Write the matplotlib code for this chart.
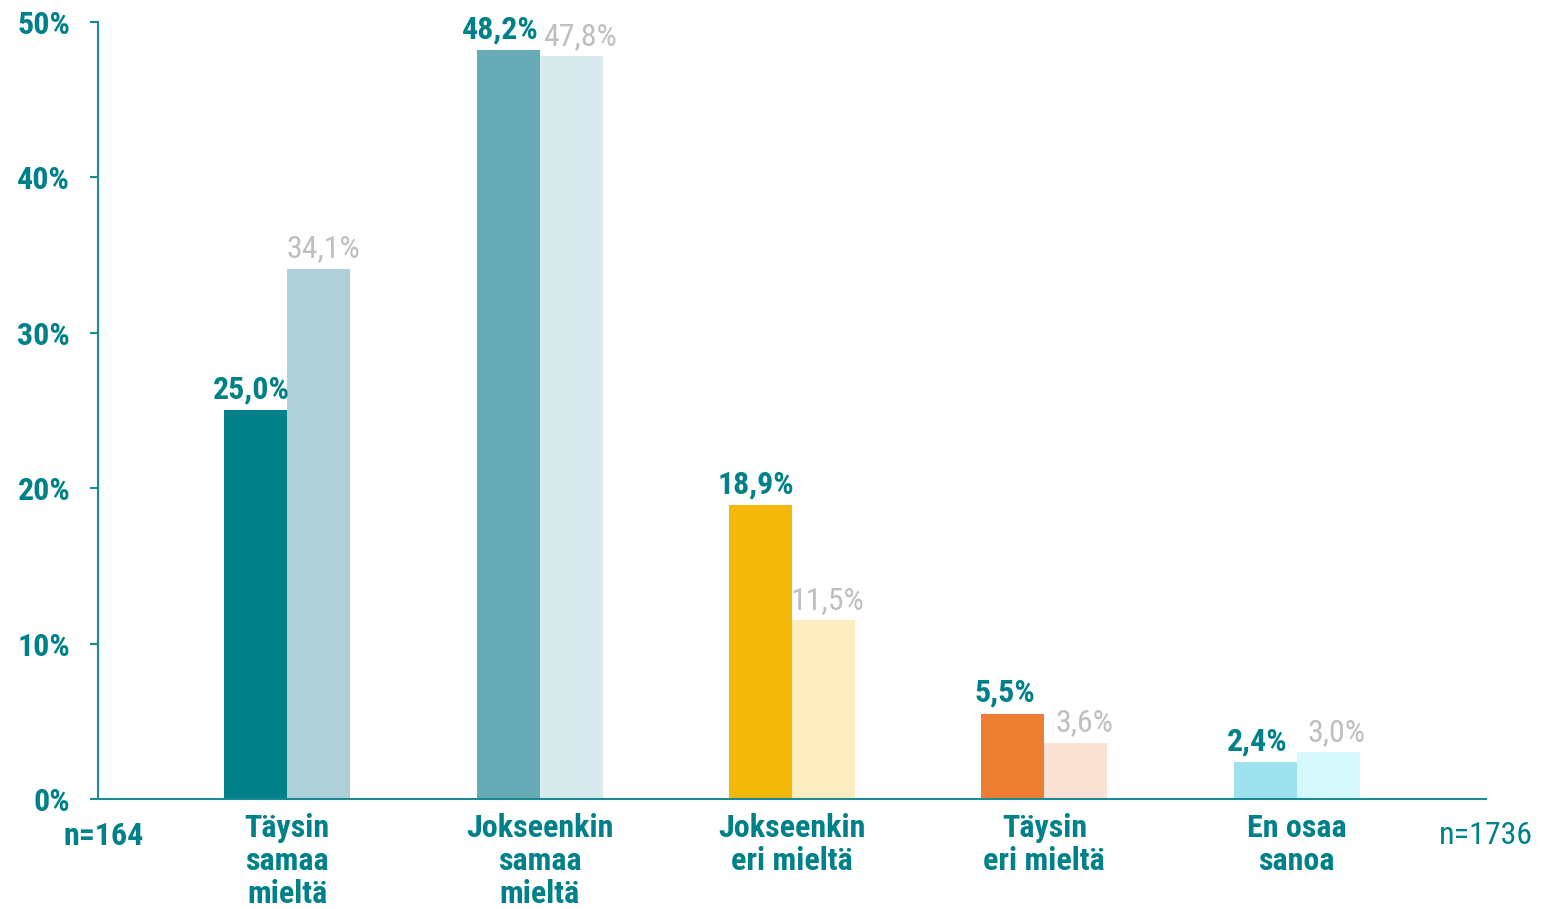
import matplotlib
matplotlib.use("Agg")
import matplotlib.pyplot as plt
from matplotlib import font_manager
import numpy as np

categories = ["Täysin\nsamaa\nmieltä", "Jokseenkin\nsamaa\nmieltä", "Jokseenkin\neri mieltä",
              "Täysin\neri mieltä", "En osaa\nsanoa"]
group_a = [25.0, 48.2, 18.9, 5.5, 2.4]    # n=164
group_b = [34.1, 47.8, 11.5, 3.6, 3.0]    # n=1736
label_a = ["25,0%", "48,2%", "18,9%", "5,5%", "2,4%"]
label_b = ["34,1%", "47,8%", "11,5%", "3,6%", "3,0%"]
yticks = [0, 10, 20, 30, 40, 50]

colors_a = ["#00818A", "#66ABB6", "#F3B80A", "#ED7D31", "#9EE2F0"]
colors_b = ["#AFD0D9", "#DAEBEE", "#FBEDC0", "#FBE2D5", "#D6F9FD"]
teal = "#00818A"
gray = "#BFBFBF"

names = {f.name for f in font_manager.fontManager.ttflist}
family = ["Liberation Sans Narrow", "Roboto Condensed", "DejaVu Sans"]
family = [f for f in family if f in names] or ["DejaVu Sans"]
plt.rcParams["font.family"] = family

fig = plt.figure(figsize=(15.57, 9.09), dpi=100)
ax = fig.add_axes([98 / 1557, 110 / 909, 1388 / 1557, 777 / 909])

x = np.arange(len(categories))
w = 0.25
bars_a = ax.bar(x - w / 2, group_a, width=w, color=colors_a, linewidth=0)
bars_b = ax.bar(x + w / 2, group_b, width=w, color=colors_b, linewidth=0)

fs = 23
for i, (ba, bb) in enumerate(zip(bars_a, bars_b)):
    close = abs(group_a[i] - group_b[i]) < 3
    ax.annotate(label_a[i], (ba.get_x() + ba.get_width() / 2, ba.get_height()),
                xytext=(-6 if close else -3, 4), textcoords="offset points",
                ha="center", va="bottom", fontsize=fs, fontweight="bold", color=teal)
    ax.annotate(label_b[i], (bb.get_x() + bb.get_width() / 2, bb.get_height()),
                xytext=(6 if close else 3, 4), textcoords="offset points",
                ha="center", va="bottom", fontsize=fs, color=gray)

ax.set_xlim(-0.75, 4.75)
ax.set_ylim(0, 50)
ax.set_yticks(yticks)
ax.set_yticklabels([f"{t}%" for t in yticks], fontsize=fs, fontweight="bold", color=teal)
ax.set_xticks(x)
ax.set_xticklabels(categories, fontsize=fs, fontweight="bold", color=teal, linespacing=1.12)
ax.tick_params(axis="x", length=0, pad=10)
ax.tick_params(axis="y", length=6, width=1.5, color="#1A8A94", pad=14)

for s in ["top", "right"]:
    ax.spines[s].set_visible(False)
for s in ["left", "bottom"]:
    ax.spines[s].set_color("#1A8A94")
    ax.spines[s].set_linewidth(1.5)

fig.text(104 / 1557, 1 - 836 / 909, "n=164", ha="center", va="center",
         fontsize=fs, fontweight="bold", color=teal)
fig.text(1486 / 1557, 1 - 836 / 909, "n=1736", ha="center", va="center",
         fontsize=fs, color=teal)

fig.savefig("out.png", dpi=100)
